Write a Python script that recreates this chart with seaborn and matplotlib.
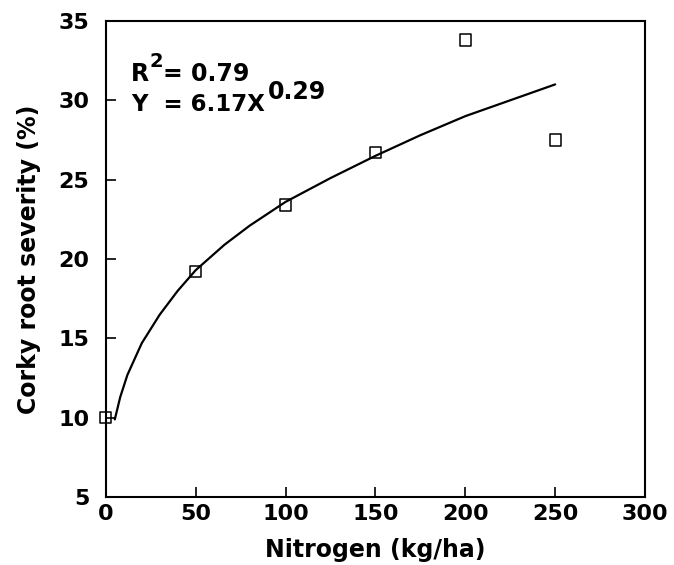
import pandas as pd
import seaborn as sns
import matplotlib.pyplot as plt

# observed points
nitrogen = [0, 50, 100, 150, 200, 250]
severity = [10.0, 19.2, 23.4, 26.7, 33.8, 27.5]

# fitted curve
fit_x = [5, 8, 12, 20, 30, 40, 50, 66, 80, 100, 125, 150, 175, 200, 225, 250]
fit_y = [9.9, 11.3, 12.7, 14.7, 16.5, 18.0, 19.3, 20.9, 22.1, 23.6, 25.1, 26.5, 27.8, 29.0, 30.0, 31.0]

obs = pd.DataFrame({"N": nitrogen, "sev": severity})
fit = pd.DataFrame({"N": fit_x, "sev": fit_y})

sns.set_style("ticks")
plt.rcParams["font.family"] = ["DejaVu Sans"]
plt.rcParams["font.weight"] = "bold"
plt.rcParams["text.color"] = "black"
plt.rcParams["axes.labelcolor"] = "black"
plt.rcParams["xtick.color"] = "black"
plt.rcParams["ytick.color"] = "black"

fig = plt.figure(figsize=(6.74, 5.65), dpi=100)
ax = fig.add_axes([0.157, 0.120, 0.800, 0.843])

sns.lineplot(x="N", y="sev", data=fit, color="black", linewidth=1.6, ax=ax)
sns.scatterplot(x="N", y="sev", data=obs, marker="s", s=65,
                facecolor="none", edgecolor="black", linewidth=1.1, ax=ax, zorder=3)
for c in ax.collections:
    c.set_clip_on(False)

ax.set_xlim(0, 300)
ax.set_ylim(5, 35)
ax.set_xticks(range(0, 301, 50))
ax.set_yticks(range(5, 36, 5))
for s in ax.spines.values():
    s.set_visible(True)
    s.set_linewidth(1.5)
    s.set_color("black")
ax.tick_params(axis="both", direction="in", length=7, width=1.2, labelsize=16)
ax.tick_params(axis="x", pad=5)
ax.tick_params(axis="y", pad=12)
for lab in ax.get_xticklabels() + ax.get_yticklabels():
    lab.set_fontweight("bold")

ax.set_xlabel("Nitrogen (kg/ha)", fontsize=17, fontweight="bold", labelpad=10)
ax.set_ylabel("Corky root severity (%)", fontsize=17, fontweight="bold", labelpad=12)

# equation text, superscripts as separate raised texts
ax.text(14, 31.2, "R", fontsize=17, fontweight="bold")
ax.text(24.5, 32.1, "2", fontsize=14, fontweight="bold")
ax.text(32, 31.2, "= 0.79", fontsize=17, fontweight="bold")
ax.text(14, 29.3, "Y  = 6.17X", fontsize=16.5, fontweight="bold")
ax.text(90, 30.1, "0.29", fontsize=17, fontweight="bold")

fig.savefig("out.png", dpi=100)
